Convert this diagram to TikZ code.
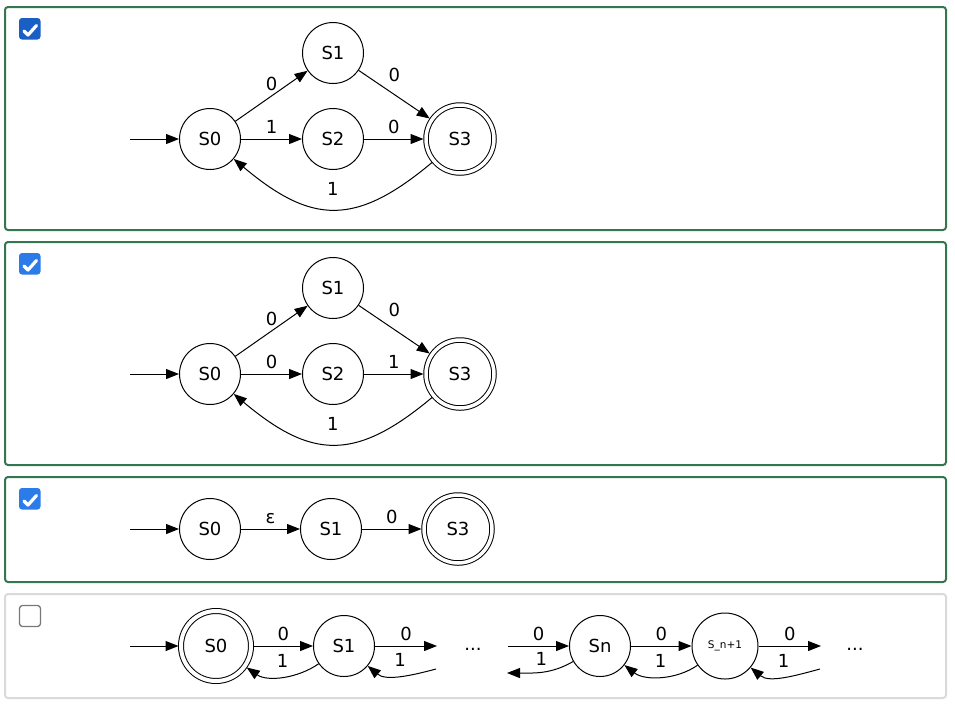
\documentclass[tikz,border=0pt]{standalone}
\usepackage{fontspec}
\setmainfont{DejaVu Sans}
\usetikzlibrary{arrows.meta}

\definecolor{panelgreen}{RGB}{52,118,80}
\definecolor{panelgrey}{RGB}{218,218,218}
\definecolor{cbdark}{RGB}{26,95,196}
\definecolor{cblight}{RGB}{43,124,233}
\definecolor{cbgrey}{RGB}{120,120,120}

\begin{document}
\begin{tikzpicture}[
  x=1pt, y=1pt,
  font=\fontsize{18}{21}\selectfont,
  >={Triangle[length=13pt,width=10pt]},
  state/.style={draw, circle, minimum size=61pt, inner sep=0pt, line width=1pt},
  accept/.style={state, double, double distance=3.5pt, minimum size=68pt, outer sep=2.5pt},
  edge/.style={->, line width=1pt},
  lbl/.style={inner sep=1pt, text height=13pt, text depth=0pt, above=4pt},
  gap/.style={inner sep=1pt, text height=13pt, text depth=0pt},
  panel/.style={draw=panelgreen, line width=2pt, rounded corners=3pt},
  tick/.style={draw=white, line width=3.2pt, line cap=round, line join=round},
]
\useasboundingbox (0,0) rectangle (955,-705);

% panels and check boxes
\draw[panel] (5,-7) rectangle (946,-230);
\draw[panel] (5,-242) rectangle (946,-465);
\draw[panel] (5,-477) rectangle (946,-582);
\draw[panel, draw=panelgrey] (5,-594) rectangle (946,-698);
\foreach \yb/\col in {18/cbdark, 253/cblight, 488/cblight} {
  \fill[\col, rounded corners=3pt] (19,-\yb) rectangle (40.5,-\yb-21.5);
  \draw[tick] (24,-\yb-13) -- (28,-\yb-17) -- (36.5,-\yb-7.5);
}
\draw[cbgrey, line width=1.3pt, rounded corners=3pt] (19.5,-605.5) rectangle (40.5,-626.5);

% panel 1
\node[state]  (a0) at (210,-139) {S0};
\node[state]  (a1) at (333,-53)  {S1};
\node[state]  (a2) at (333,-139) {S2};
\node[accept] (a3) at (460,-139) {S3};
\coordinate (a-in) at (130,-139);
\draw[edge] (a-in) -- (a0);
\draw[edge] (a0) -- node[lbl] {0} (a1);
\draw[edge] (a1) -- node[lbl, above=7pt] {0} (a3);
\draw[edge] (a0) -- node[lbl] {1} (a2);
\draw[edge] (a2) -- node[lbl] {0} (a3);
\draw[edge] (a3) to[out=-140, in=-40, looseness=1.3]
  node[lbl, above=8pt] {1} (a0);

% panel 2
\node[state]  (b0) at (210,-374) {S0};
\node[state]  (b1) at (333,-288) {S1};
\node[state]  (b2) at (333,-374) {S2};
\node[accept] (b3) at (460,-374) {S3};
\coordinate (b-in) at (130,-374);
\draw[edge] (b-in) -- (b0);
\draw[edge] (b0) -- node[lbl] {0} (b1);
\draw[edge] (b1) -- node[lbl, above=7pt] {0} (b3);
\draw[edge] (b0) -- node[lbl] {0} (b2);
\draw[edge] (b2) -- node[lbl] {1} (b3);
\draw[edge] (b3) to[out=-140, in=-40, looseness=1.3]
  node[lbl, above=8pt] {1} (b0);

% panel 3
\node[state]  (c0) at (210,-529) {S0};
\node[state]  (c1) at (331,-529) {S1};
\node[accept] (c3) at (458,-529) {S3};
\coordinate (c-in) at (130,-529);
\draw[edge] (c-in) -- (c0);
\draw[edge] (c0) -- node[lbl] {ε} (c1);
\draw[edge] (c1) -- node[lbl] {0} (c3);

% panel 4
\node[accept, minimum size=70pt, double distance=4pt] (d0) at (216,-646) {S0};
\node[state] (d1) at (344,-646) {S1};
\node[state] (dn) at (600,-646) {Sn};
\node[state, minimum size=66pt, font=\fontsize{10.5}{12}\selectfont] (dm) at (725,-646) {S\_n+1};
\node[gap] (dots1) at (473,-644) {...};
\node[gap] (dots2) at (855,-644) {...};
\coordinate (d-in)    at (130,-646);
\coordinate (d1-out)  at (437,-646);
\coordinate (d1-back) at (436,-669);
\coordinate (dn-in)   at (508,-646);
\coordinate (dn-back) at (507,-673);
\coordinate (dm-out)  at (821,-646);
\coordinate (dm-back) at (820,-669);
\draw[edge] (d-in) -- (d0);
\draw[edge] (d0) -- node[lbl] {0} (d1);
\draw[edge] (d1) to[out=-145, in=-35, looseness=0.9] node[lbl, above=4pt] {1} (d0);
\draw[edge] (d1) -- node[lbl] {0} (d1-out);
\draw[edge] (d1-back) to[out=-165, in=-40, looseness=0.9] node[lbl, above=4pt] {1} (d1);
\draw[edge] (dn-in) -- node[lbl] {0} (dn);
\draw[edge] (dn) to[out=-150, in=0, looseness=1] node[lbl, above=1pt] {1} (dn-back);
\draw[edge] (dn) -- node[lbl] {0} (dm);
\draw[edge] (dm) to[out=-145, in=-38, looseness=0.9] node[lbl, above=4pt] {1} (dn);
\draw[edge] (dm) -- node[lbl] {0} (dm-out);
\draw[edge] (dm-back) to[out=-165, in=-40, looseness=0.9] node[lbl, above=4pt] {1} (dm);
\end{tikzpicture}
\end{document}
